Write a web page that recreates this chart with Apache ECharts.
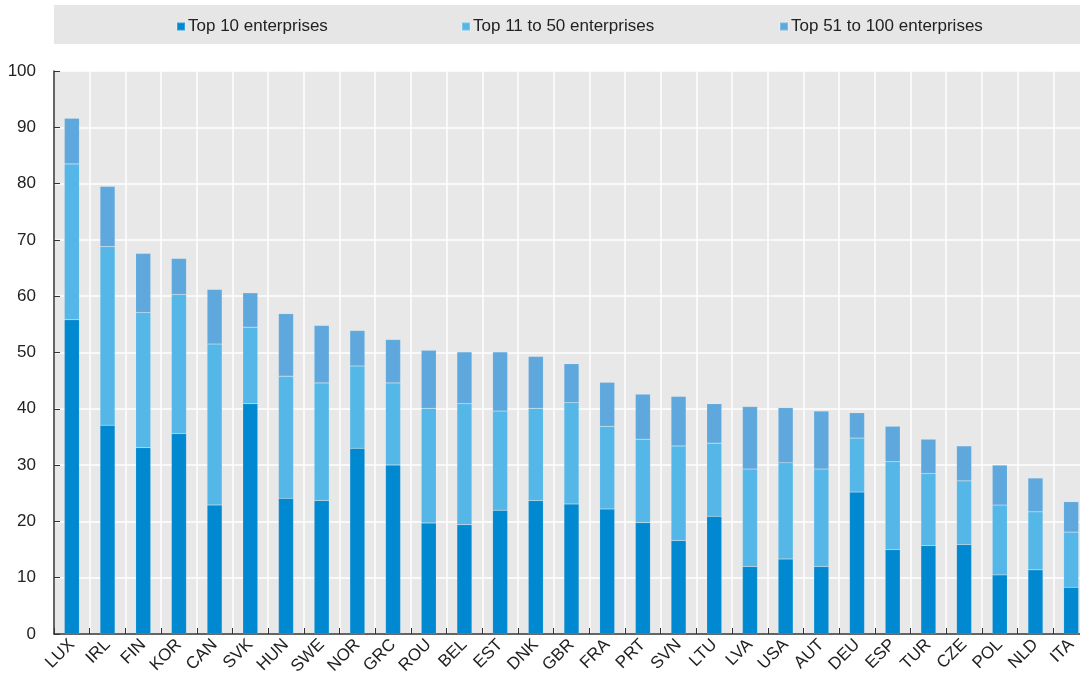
<!DOCTYPE html>
<html>
<head>
<meta charset="utf-8">
<script src="https://cdn.jsdelivr.net/npm/echarts@6/dist/echarts.min.js"></script>
<style>
  html, body { margin: 0; padding: 0; background: #fff; }
  #chart { width: 1080px; height: 677px; }
</style>
</head>
<body>
<div id="chart"></div>
<script>
const countries = ['LUX', 'IRL', 'FIN', 'KOR', 'CAN', 'SVK', 'HUN', 'SWE', 'NOR', 'GRC', 'ROU', 'BEL', 'EST', 'DNK',
  'GBR', 'FRA', 'PRT', 'SVN', 'LTU', 'LVA', 'USA', 'AUT', 'DEU', 'ESP', 'TUR', 'CZE', 'POL', 'NLD', 'ITA']

// share of each size band (stacked)
const top10 = [55.8, 37.1, 33.1, 35.6, 22.9, 40.9, 24.1, 23.7, 33.0, 30.0, 19.7, 19.4, 22.0, 23.7,
  23.1, 22.2, 19.8, 16.6, 20.9, 12.0, 13.3, 12.0, 25.2, 15.0, 15.7, 15.9, 10.5, 11.4, 8.3]
const top11to50 = [27.7, 31.7, 24.0, 24.7, 28.6, 13.6, 21.7, 20.9, 14.6, 14.6, 20.4, 21.5, 17.6, 16.4,
  18.0, 14.7, 14.8, 16.8, 13.0, 17.3, 17.1, 17.3, 9.6, 15.6, 12.8, 11.3, 12.4, 10.3, 9.8]
const top51to100 = [8.1, 10.7, 10.5, 6.4, 9.7, 6.1, 11.1, 10.2, 6.3, 7.7, 10.3, 9.2, 10.5, 9.2,
  6.9, 7.8, 8.0, 8.8, 7.0, 11.1, 9.8, 10.3, 4.5, 6.3, 6.1, 6.2, 7.1, 6.0, 5.4]

const seriesNames = ['Top 10 enterprises', 'Top 11 to 50 enterprises', 'Top 51 to 100 enterprises']
const seriesColors = ['#0089d0', '#55b7e7', '#5fa8dd']
const seriesData = [top10, top11to50, top51to100]

const font = 'Liberation Sans, Arial, sans-serif'

const chart = echarts.init(document.getElementById('chart'))

// one legend per entry so each sits where the original puts it
const legendLefts = [171, 456, 774]
const legends = seriesNames.map((name, i) => ({
  top: 13,
  left: legendLefts[i],
  itemWidth: 8,
  itemHeight: 8,
  itemGap: 5,
  icon: 'rect',
  textStyle: { color: '#222', fontFamily: font, fontSize: 17, padding: [0, 0, 0, -2] },
  data: [name]
}))

chart.setOption({
  backgroundColor: '#fff',
  animation: false,
  graphic: [
    {
      type: 'rect',
      left: 54,
      top: 5,
      shape: { width: 1026, height: 39 },
      style: { fill: '#e6e6e6' },
      z: -1
    }
  ],
  legend: legends,
  grid: {
    left: 54,
    width: 1035,
    top: 71,
    bottom: 43,
    outerBoundsMode: 'none',
    containLabel: false,
    show: true,
    backgroundColor: '#e8e8e8',
    borderWidth: 0
  },
  xAxis: {
    type: 'category',
    data: countries,
    axisLine: { lineStyle: { color: '#333', width: 1.5 } },
    axisTick: { show: true, inside: true, length: 6, lineStyle: { color: '#333' } },
    axisLabel: { color: '#222', fontFamily: font, fontSize: 17, rotate: 45, margin: 8, interval: 0 },
    splitLine: { show: true, lineStyle: { color: '#fff', width: 1.5 } }
  },
  yAxis: {
    type: 'value',
    min: 0,
    max: 100,
    interval: 10,
    axisLine: { show: true, lineStyle: { color: '#333', width: 1.5 } },
    axisTick: { show: true, inside: true, length: 6, lineStyle: { color: '#333' } },
    axisLabel: { color: '#222', fontFamily: font, fontSize: 17, margin: 18 },
    splitLine: { show: true, lineStyle: { color: '#fff', width: 1.5 } }
  },
  series: seriesNames.map((name, i) => ({
    name,
    type: 'bar',
    stack: 'total',
    barWidth: '42%',
    color: seriesColors[i],
    itemStyle: { borderColor: 'rgba(255,255,255,0.2)', borderWidth: 0.5 },
    data: seriesData[i]
  }))
})
</script>
</body>
</html>
